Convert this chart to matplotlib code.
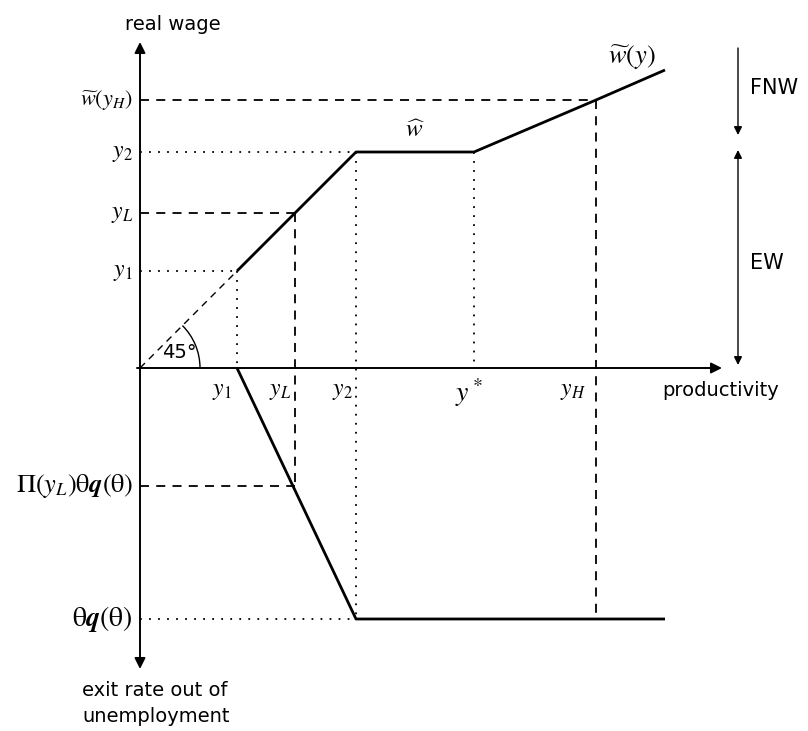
import matplotlib
matplotlib.use("Agg")
import matplotlib.pyplot as plt
from matplotlib.patches import Arc
import numpy as np

plt.rcParams['mathtext.fontset'] = 'stix'
plt.rcParams['font.family'] = ['DejaVu Sans']

# ---- schematic values (diagram units, origin at axis crossing) ----
y1 = 97
yL = 155
y2 = 216
y_star = 334
yH = 456
x_end = 525
w_hat = y2
w_yH = 268
w_end = 298
exit_yL = -118      # Pi(yL) theta q(theta), drawn downward
exit_full = -251    # theta q(theta), drawn downward

# wage schedule: 45-degree segment, flat at w_hat, rising w~(y)
wage_x = [y1, y2, y_star, yH, x_end]
wage_y = [y1, w_hat, w_hat, w_yH, w_end]
# exit rate schedule (downward)
exit_x = [y1, y2, x_end]
exit_y = [0, exit_full, exit_full]

fig = plt.figure(figsize=(8.08, 7.31), dpi=100)
ax = fig.add_axes([0, 0, 1, 1])
ax.set_xlim(-140, 668)
ax.set_ylim(-363, 368)
ax.axis('off')

k = 'black'
# axes with arrows
ax.annotate('', xy=(0, 326), xytext=(0, -301),
            arrowprops=dict(arrowstyle='<|-|>', color=k, lw=1.4,
                            mutation_scale=16, shrinkA=0, shrinkB=0))
ax.annotate('', xy=(582, 0), xytext=(-3, 0),
            arrowprops=dict(arrowstyle='-|>', color=k, lw=1.4,
                            mutation_scale=16, shrinkA=0, shrinkB=0))

# main schedules
ax.plot(wage_x, wage_y, color=k, lw=2.0, solid_capstyle='butt')
ax.plot(exit_x, exit_y, color=k, lw=2.0, solid_capstyle='butt')
# dashed 45 degree line from origin
ax.plot([0, y1], [0, y1], color=k, lw=1.0, ls=(0, (5, 4)))

dash = dict(color=k, lw=1.3, ls=(0, (5, 4)))
dot = dict(color=k, lw=1.3, ls=(0, (1, 4)))
# guide lines
ax.plot([0, y1], [y1, y1], **dot)
ax.plot([y1, y1], [y1, 0], **dot)
ax.plot([0, yL], [yL, yL], **dash)
ax.plot([yL, yL], [yL, exit_yL], **dash)
ax.plot([0, yL], [exit_yL, exit_yL], **dash)
ax.plot([0, y2], [y2, y2], **dot)
ax.plot([y2, y2], [y2, exit_full], **dot)
ax.plot([0, y2], [exit_full, exit_full], **dot)
ax.plot([y_star, y_star], [w_hat, 0], **dot)
ax.plot([0, yH], [w_yH, w_yH], **dash)
ax.plot([yH, yH], [w_yH, exit_full], **dash)

# 45 degree arc
ax.add_patch(Arc((0, 0), 120, 120, theta1=0, theta2=45, color=k, lw=1.0))
ax.text(39, 16, '45°', fontsize=14, ha='center', va='center')

# vertical-axis labels
ms = 17
ax.text(-7, w_yH, r'$\widetilde{w}(y_H)$', fontsize=16, ha='right', va='center')
ax.text(-7, y2, r'$y_2$', fontsize=ms, ha='right', va='center')
ax.text(-7, yL, r'$y_L$', fontsize=ms, ha='right', va='center')
ax.text(-7, y1, r'$y_1$', fontsize=ms, ha='right', va='center')
ax.text(-7, exit_yL, r'$\Pi(y_L)\mathrm{\theta}\boldsymbol{q}(\mathrm{\theta})$',
        fontsize=19, ha='right', va='center')
ax.text(-7, exit_full, r'$\mathrm{\theta}\boldsymbol{q}(\mathrm{\theta})$',
        fontsize=20, ha='right', va='center')

# horizontal-axis labels
ax.text(y1 - 15, -22, r'$y_1$', fontsize=ms, ha='center', va='center')
ax.text(yL - 15, -22, r'$y_L$', fontsize=ms, ha='center', va='center')
ax.text(y2 - 14, -22, r'$y_2$', fontsize=ms, ha='center', va='center')
ax.text(y_star - 5, -25, r'$y^*$', fontsize=20, ha='center', va='center')
ax.text(yH - 23, -22, r'$y_H$', fontsize=ms, ha='center', va='center')

# curve labels
ax.text(275, 226, r'$\widehat{w}$', fontsize=18, ha='center', va='bottom')
ax.text(492, 296, r'$\widetilde{w}(y)$', fontsize=19, ha='center', va='bottom')

# axis titles
fs = 14
ax.text(33, 344, 'real wage', fontsize=fs, ha='center', va='center')
ax.text(522, -22, 'productivity', fontsize=fs, ha='left', va='center')
ax.text(-58, -322, 'exit rate out of', fontsize=fs, ha='left', va='center')
ax.text(-58, -348, 'unemployment', fontsize=fs, ha='left', va='center')

# FNW / EW arrows
ax.annotate('', xy=(598, 233), xytext=(598, 320),
            arrowprops=dict(arrowstyle='-|>', color=k, lw=1.0,
                            mutation_scale=12, shrinkA=0, shrinkB=0))
ax.annotate('', xy=(598, 218), xytext=(598, 3),
            arrowprops=dict(arrowstyle='<|-|>', color=k, lw=1.0,
                            mutation_scale=12, shrinkA=0, shrinkB=0))
ax.text(610, 280, 'FNW', fontsize=15, ha='left', va='center')
ax.text(610, 105, 'EW', fontsize=15, ha='left', va='center')

fig.savefig('out.png', dpi=100)
